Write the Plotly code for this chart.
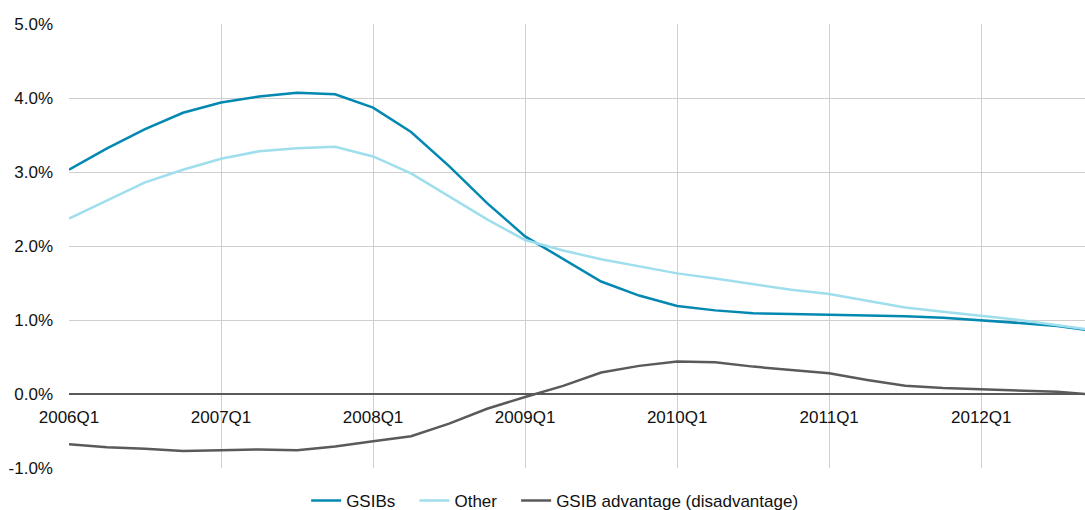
import plotly.graph_objects as go

quarters = [f"{y}Q{q}" for y in range(2006, 2013) for q in range(1, 5)]
tick_labels = ["2006Q1", "2007Q1", "2008Q1", "2009Q1", "2010Q1", "2011Q1", "2012Q1"]
series_names = ["GSIBs", "Other", "GSIB advantage (disadvantage)"]

gsibs = [3.03, 3.32, 3.58, 3.80, 3.94, 4.02, 4.07, 4.05, 3.87, 3.54, 3.08, 2.58,
         2.13, 1.82, 1.52, 1.33, 1.19, 1.13, 1.09, 1.08, 1.07, 1.07, 1.05, 1.03,
         1.00, 0.96, 0.92, 0.85]
other = [2.37, 2.61, 2.86, 3.03, 3.18, 3.28, 3.32, 3.34, 3.21, 2.98, 2.67, 2.36,
         2.08, 1.94, 1.82, 1.72, 1.63, 1.56, 1.48, 1.41, 1.35, 1.26, 1.17, 1.11,
         1.06, 1.00, 0.93, 0.86]
advantage = [-0.68, -0.72, -0.74, -0.77, -0.76, -0.75, -0.76, -0.71, -0.64, -0.57, -0.40, -0.20,
             -0.04, 0.11, 0.29, 0.38, 0.44, 0.43, 0.37, 0.32, 0.28, 0.19, 0.11, 0.08,
             0.06, 0.04, 0.03, -0.01]

y_ticks = [-1, 0, 1, 2, 3, 4, 5]

FONT = "Liberation Sans, Arial, sans-serif"
PAD = "\u00a0\u00a0\u00a0"

fig = go.Figure()
fig.add_trace(go.Scatter(x=quarters, y=gsibs, mode="lines", name=series_names[0] + PAD,
                         line=dict(color="#0388b1", width=2.5)))
fig.add_trace(go.Scatter(x=quarters, y=other, mode="lines", name=series_names[1] + PAD,
                         line=dict(color="#9fdeec", width=2.5)))
fig.add_trace(go.Scatter(x=quarters, y=advantage, mode="lines", name=series_names[2],
                         line=dict(color="#5a5a5a", width=2.5)))

fig.update_layout(
    width=1085, height=510,
    margin=dict(l=69, r=0, t=24, b=42, autoexpand=False),
    paper_bgcolor="white", plot_bgcolor="white",
    font=dict(family=FONT, size=17, color="#111111"),
    showlegend=True,
    legend=dict(orientation="h", x=0.478, xanchor="center", y=-0.074, yanchor="middle",
                font=dict(size=17), bgcolor="rgba(0,0,0,0)", itemwidth=30),
    xaxis=dict(type="category", range=[0, 26.73], tickmode="array",
               tickvals=tick_labels, ticktext=tick_labels,
               showgrid=True, gridcolor="#cfcfcf", gridwidth=1,
               showline=False, ticks="", anchor="free", position=1/6,
               ticklabelstandoff=11, tickangle=0, automargin=False),
    yaxis=dict(range=[-1, 5], tickvals=y_ticks,
               ticktext=[f"{v:.1f}%" for v in y_ticks], tickmode="array",
               showgrid=True, gridcolor="#cfcfcf", gridwidth=1,
               zeroline=True, zerolinecolor="#5a5a5a", zerolinewidth=1.5,
               ticks="", ticklabelstandoff=15, automargin=False),
)

fig.write_html("out.html")
